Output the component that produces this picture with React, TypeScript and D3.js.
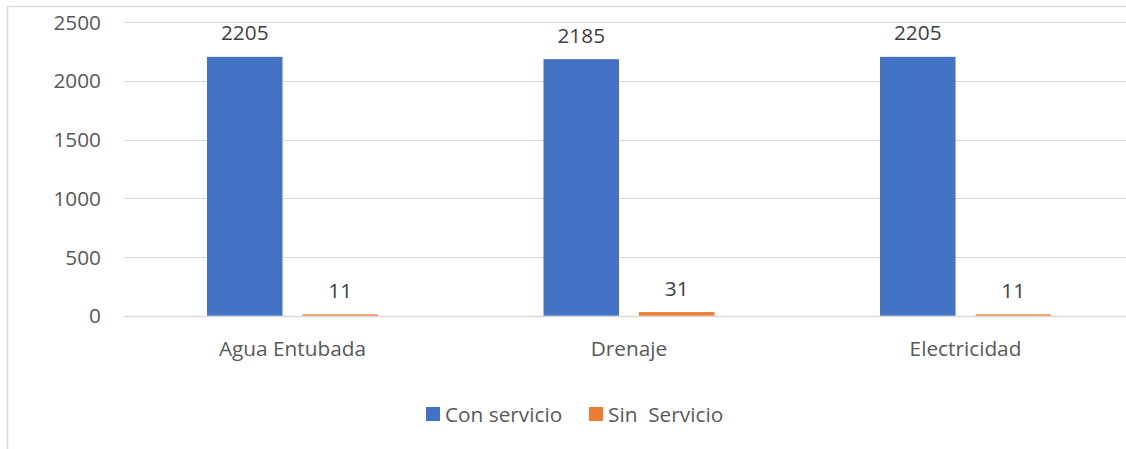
import React, { useEffect, useRef } from 'react';
import * as d3 from 'd3';

const categories = ['Agua Entubada', 'Drenaje', 'Electricidad'];
const seriesNames = ['Con servicio', 'Sin  Servicio'];
const conServicio = [2205, 2185, 2205];
const sinServicio = [11, 31, 11];
const yTicks = [0, 500, 1000, 1500, 2000, 2500];
const seriesColors = ['#4472C4', '#ED7D31'];

const WIDTH = 1126;
const HEIGHT = 449;
const FONT = '"Open Sans", sans-serif';
const FONT_SIZE = '20.8px';
const TEXT_COLOR = '#595959';

const App: React.FC = () => {
  const svgRef = useRef<SVGSVGElement>(null);

  useEffect(() => {
    if (!svgRef.current) return;
    const svg = d3.select(svgRef.current);
    svg.selectAll('*').remove();

    // chart frame (runs off the right and bottom edges)
    svg.append('rect')
      .attr('x', 7.5)
      .attr('y', 6.5)
      .attr('width', WIDTH + 20)
      .attr('height', HEIGHT + 20)
      .attr('fill', '#FFFFFF')
      .attr('stroke', '#D9D9D9')
      .attr('stroke-width', 1.5);

    const plotLeft = 124.25;
    const plotRight = 1133.75;

    const x0 = d3.scaleBand<string>()
      .domain(categories)
      .range([plotLeft, plotRight])
      .padding(0);

    const groupPad = (x0.bandwidth() - 171) / 2;
    const x1 = d3.scaleBand<string>()
      .domain(seriesNames)
      .range([groupPad, x0.bandwidth() - groupPad])
      .paddingInner(0.2094)
      .paddingOuter(0);

    const y = d3.scaleLinear()
      .domain([0, 2500])
      .range([315.7, 22.2]);

    // gridlines
    svg.append('g')
      .selectAll('line')
      .data(yTicks)
      .enter()
      .append('line')
      .attr('x1', plotLeft)
      .attr('x2', plotRight)
      .attr('y1', d => Math.round(y(d)) + 0.5)
      .attr('y2', d => Math.round(y(d)) + 0.5)
      .attr('stroke', '#D9D9D9')
      .attr('stroke-width', d => (d === 0 ? 1.5 : 1.2));

    // y tick labels
    svg.append('g')
      .selectAll('text')
      .data(yTicks)
      .enter()
      .append('text')
      .attr('x', 101)
      .attr('y', d => y(d) + 7.5)
      .attr('text-anchor', 'end')
      .attr('font-family', FONT)
      .attr('font-size', FONT_SIZE)
      .attr('fill', TEXT_COLOR)
      .text(d => String(d));

    const values = [conServicio, sinServicio];

    seriesNames.forEach((s, si) => {
      const g = svg.append('g');
      g.selectAll('rect')
        .data(categories)
        .enter()
        .append('rect')
        .attr('x', c => (x0(c) as number) + (x1(s) as number))
        .attr('y', (c, i) => y(values[si][i]))
        .attr('width', x1.bandwidth())
        .attr('height', (c, i) => y(0) - y(values[si][i]))
        .attr('fill', seriesColors[si]);

      g.selectAll('text')
        .data(categories)
        .enter()
        .append('text')
        .attr('x', c => (x0(c) as number) + (x1(s) as number) + x1.bandwidth() / 2)
        .attr('y', (c, i) => y(values[si][i]) - 16.5)
        .attr('text-anchor', 'middle')
        .attr('font-family', FONT)
        .attr('font-size', FONT_SIZE)
        .attr('fill', '#404040')
        .text((c, i) => String(values[si][i]));
    });

    // category labels
    svg.append('g')
      .selectAll('text')
      .data(categories)
      .enter()
      .append('text')
      .attr('x', c => (x0(c) as number) + x0.bandwidth() / 2)
      .attr('y', 355.5)
      .attr('text-anchor', 'middle')
      .attr('font-family', FONT)
      .attr('font-size', FONT_SIZE)
      .attr('fill', TEXT_COLOR)
      .text(c => c);

    // legend
    const legendX = [426, 589];
    const legend = svg.append('g');
    seriesNames.forEach((s, i) => {
      legend.append('rect')
        .attr('x', legendX[i])
        .attr('y', 407)
        .attr('width', 14)
        .attr('height', 14)
        .attr('fill', seriesColors[i]);
      legend.append('text')
        .attr('x', legendX[i] + 19)
        .attr('y', 421.5)
        .attr('font-family', FONT)
        .attr('font-size', FONT_SIZE)
        .attr('fill', TEXT_COLOR)
        .attr('xml:space', 'preserve')
        .style('white-space', 'pre')
        .text(s);
    });
  }, []);

  return (
    <svg
      ref={svgRef}
      width={WIDTH}
      height={HEIGHT}
      style={{ position: 'absolute', left: 0, top: 0, background: '#FFFFFF' }}
    />
  );
};

export default App;
